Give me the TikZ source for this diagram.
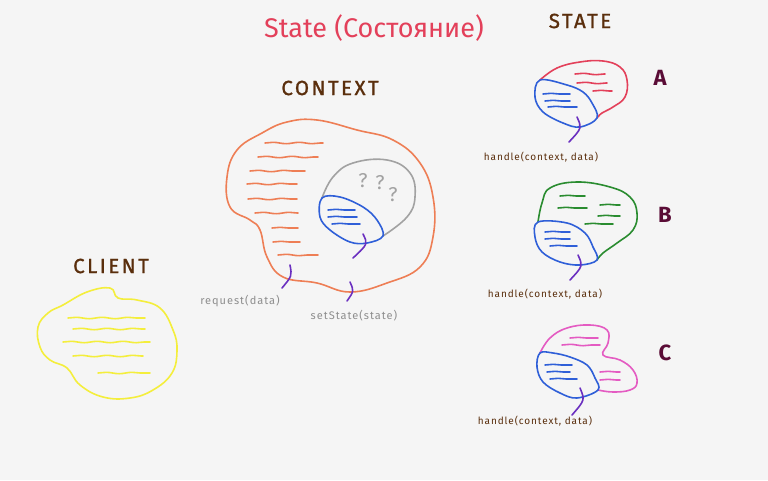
\documentclass[tikz,border=0pt]{standalone}
\usepackage{fontspec}
\setmainfont{Fira Sans}
\newfontfamily\mainlarge[LetterSpace=12,FakeBold=1.2]{Fira Sans}
\newfontfamily\mainlarg[LetterSpace=9]{Fira Sans}
\usetikzlibrary{decorations.pathmorphing}
\definecolor{fond}{HTML}{F5F5F5}
\definecolor{rouge}{HTML}{E3405A}
\definecolor{orange}{HTML}{EE7E55}
\definecolor{gris}{HTML}{A2A2A2}
\definecolor{bleu}{HTML}{2F5FD8}
\definecolor{violet}{HTML}{6A2FC0}
\definecolor{jaune}{HTML}{F4EE3C}
\definecolor{vert}{HTML}{2A8C30}
\definecolor{rose}{HTML}{E45BC2}
\definecolor{brun}{HTML}{5A2E0C}
\definecolor{bordeaux}{HTML}{5A0C36}
\definecolor{texgris}{HTML}{8E8E8E}
\begin{document}
\begin{tikzpicture}[x=1pt,y=-1pt,line width=1.6pt,line cap=round,line join=round]
\tikzstyle{vague} = [decorate,decoration={snake,amplitude=0.7pt,segment length=26pt}]
\tikzstyle{crochet} = [draw=violet,line width=1.6pt]
\tikzstyle{titre} = [text=brun,font=\mainlarge\fontsize{20.5}{22}\selectfont]
\tikzstyle{lettre} = [text=bordeaux,font=\fontsize{22}{24}\selectfont\bfseries]
\tikzstyle{methode} = [text=brun,font=\mainlarg\fontsize{10}{11}\selectfont]
\tikzstyle{appel} = [text=texgris,font=\mainlarg\fontsize{11}{12}\selectfont]
\tikzstyle{doute} = [text=gris,font=\fontsize{20}{22}\selectfont]
%fond
\fill[fond] (0,0) rectangle (768,480);
\useasboundingbox (0,0) rectangle (768,480);
%titres
\node[text=rouge,font=\fontsize{27}{30}\selectfont] (titre) at (374,28) {State (Состояние)};
\node[titre] (tstate) at (580,21) {STATE};
\node[titre] (tcontext) at (330,88) {CONTEXT};
\node[titre] (tclient) at (111,266) {CLIENT};
%client
\draw[jaune] plot[smooth cycle,tension=0.7] coordinates {(63,305) (87,292) (110,288) (118,298) (137,300) (160,308) (173,330) (177,350) (172,373) (153,390) (130,398) (103,397) (80,385) (67,368) (50,360) (40,347) (38,327) (48,313)};
\foreach \xa/\xb/\yy in {68/145/318,73/145/329,63/150/342,73/143/356,98/150/373}
  \draw[jaune,vague] (\xa,\yy) -- (\xb,\yy);
%context
\draw[orange] plot[smooth cycle,tension=0.7] coordinates {(262,133) (287,122) (317,120) (357,130) (393,140) (420,163) (433,197) (433,237) (420,267) (387,283) (350,292) (317,283) (283,277) (267,257) (260,230) (250,220) (230,207) (227,177) (237,150)};
\foreach \xa/\xb/\yy in {265/323/143,258/318/157,250/305/171,247/297/184,248/297/199,255/298/213,272/298/228,273/300/242,278/318/255}
  \draw[orange,vague] (\xa,\yy) -- (\xb,\yy);
%etat inconnu
\draw[gris] plot[smooth,tension=0.7] coordinates {(322,198) (333,177) (353,163) (387,160) (410,173) (415,197) (407,217) (383,236)};
\node[doute] (q1) at (363,181) {?};
\node[doute] (q2) at (380,183) {?};
\node[doute] (q3) at (393,195) {?};
\draw[bleu] plot[smooth cycle,tension=0.6] coordinates {(322,198) (340,197) (363,207) (377,220) (383,236) (367,243) (350,242) (330,230) (320,217)};
\foreach \xa/\xb/\yy in {328/355/210,328/357/217,332/360/224}
  \draw[bleu,vague] (\xa,\yy) -- (\xb,\yy);
%appels
\coordinate (c1) at (363,234);
\coordinate (c2) at (353,258);
\draw[crochet] (c1) .. controls (368,244) .. (c2);
\node[appel] (request) at (240,301) {request(data)};
\node[appel] (setstate) at (354,316) {setState(state)};
\coordinate (r1) at (290,265);
\coordinate (r2) at (282,288);
\draw[crochet] (r1) .. controls (292,276) .. (r2);
\coordinate (s1) at (350,282);
\coordinate (s2) at (347,301);
\draw[crochet] (s1) .. controls (354,291) .. (s2);
%etat A
\draw[rouge] plot[smooth,tension=0.7] coordinates {(540,80) (557,68) (580,62) (603,61) (620,67) (627,80) (625,97) (613,107) (602,113) (597,118)};
\foreach \xa/\xb/\yy in {575/605/74,577/607/83,593/612/91}
  \draw[rouge,vague] (\xa,\yy) -- (\xb,\yy);
\draw[bleu] plot[smooth cycle,tension=0.6] coordinates {(540,80) (535,97) (543,112) (563,123) (580,127) (597,118) (592,103) (583,92) (567,85)};
\foreach \xa/\xb/\yy in {543/570/94,545/570/101,548/577/107}
  \draw[bleu,vague] (\xa,\yy) -- (\xb,\yy);
\coordinate (a1) at (577,117);
\coordinate (a2) at (569,142);
\draw[crochet] (a1) .. controls (582,128) .. (a2);
\node[methode] (handleA) at (541,157) {handle(context, data)};
\node[lettre] (A) at (660,78) {A};
%etat B
\draw[vert] plot[smooth,tension=0.7] coordinates {(538,222) (542,203) (550,188) (577,182) (610,187) (630,197) (637,213) (633,230) (617,243) (603,253) (597,260)};
\foreach \xa/\xb/\yy in {560/585/196,558/587/208,600/620/205,598/620/216,585/613/224}
  \draw[vert,vague] (\xa,\yy) -- (\xb,\yy);
\draw[bleu] plot[smooth cycle,tension=0.6] coordinates {(538,222) (535,237) (542,252) (560,262) (580,265) (597,260) (593,247) (585,233) (567,223)};
\foreach \xa/\xb/\yy in {545/570/232,545/570/239,550/577/246}
  \draw[bleu,vague] (\xa,\yy) -- (\xb,\yy);
\coordinate (b1) at (578,255);
\coordinate (b2) at (570,280);
\draw[crochet] (b1) .. controls (583,266) .. (b2);
\node[methode] (handleB) at (545,294) {handle(context, data)};
\node[lettre] (B) at (665,215) {B};
%etat C
\draw[rose] plot[smooth,tension=0.7] coordinates {(540,353) (550,338) (567,328) (590,325) (607,330) (608,343) (603,355) (620,360) (633,370) (637,383) (630,390) (613,392) (598,390)};
\foreach \xa/\xb/\yy in {570/598/338,562/600/345,600/620/372,600/620/380}
  \draw[rose,vague] (\xa,\yy) -- (\xb,\yy);
\draw[bleu] plot[smooth cycle,tension=0.6] coordinates {(540,353) (537,367) (543,382) (560,393) (577,398) (598,390) (595,378) (587,365) (570,357) (553,353)};
\foreach \xa/\xb/\yy in {545/572/365,547/570/372,550/577/379}
  \draw[bleu,vague] (\xa,\yy) -- (\xb,\yy);
\coordinate (k1) at (580,388);
\coordinate (k2) at (572,415);
\draw[crochet] (k1) .. controls (585,400) .. (k2);
\node[methode] (handleC) at (535,421) {handle(context, data)};
\node[lettre] (C) at (665,353) {C};
\end{tikzpicture}
\end{document}
